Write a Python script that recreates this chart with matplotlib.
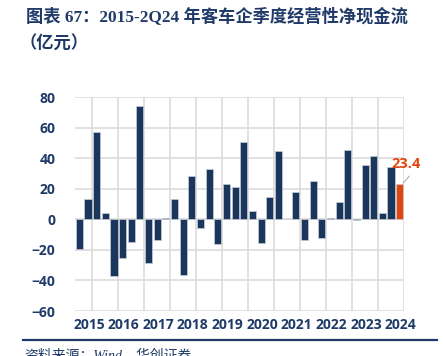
import numpy as np
import matplotlib
matplotlib.use('Agg')
import matplotlib.pyplot as plt

plt.rcParams['font.family'] = ['Open Sans', 'Noto Sans CJK SC', 'DejaVu Sans']

# 2015Q1 ~ 2024Q2 客车企业季度经营性净现金流（亿元）
values = [-19.6, 13.1, 57.4, 3.9,
          -36.9, -25.1, -15.1, 74.5,
          -28.4, -13.5, 1.1, 13.5,
          -36.2, 28.4, -5.9, 33.2,
          -16.4, 22.9, 21.2, 50.4,
          5.7, -15.3, 14.4, 45.0,
          0.2, 18.1, -13.8, 25.3,
          -12.0, 1.1, 11.1, 45.4,
          -0.4, 35.6, 41.7, 4.4,
          34.5, 23.4]
years = ['2015', '2016', '2017', '2018', '2019', '2020', '2021', '2022', '2023', '2024']

navy = '#1a365d'
orange = '#e0460f'
txt = '#1f3a68'
grid_c = '#dcdcdc'

fig = plt.figure(figsize=(4.43, 3.56), dpi=100)
ax = fig.add_axes([0.1693, 0.1264, 0.7427, 0.6003])

n = len(values)
x = np.arange(n)
colors = [navy] * (n - 1) + [orange]
ax.bar(x, values, width=0.82, color=colors, edgecolor='#c8cdd6', linewidth=0.5, zorder=3)

ax.set_xlim(-0.5, n - 0.5)
ax.set_ylim(-60, 80)
ax.set_yticks(range(-60, 81, 20))
ax.yaxis.grid(True, color=grid_c, linewidth=1.2, zorder=0)
# vertical gridlines (every 3 categories from the right edge)
for b in range(n, 1, -3):
    ax.axvline(b - 0.5, color=grid_c, linewidth=1.2, zorder=0)

ax.set_xticks([4 * i + 1.1 for i in range(len(years))])
ax.set_xticklabels(years)
ax.tick_params(length=0, labelsize=10, labelcolor=txt)
ax.tick_params(axis='y', pad=14)
ax.tick_params(axis='x', pad=5)
for lab in ax.get_xticklabels() + ax.get_yticklabels():
    lab.set_fontweight('bold')
for s in ax.spines.values():
    s.set_visible(False)

# 最后一个值的标注
last = n - 1
ax.annotate('', xy=(last + 0.4, values[last] + 0.3),
            xytext=(last + 1.1, values[last] + 5.0),
            arrowprops=dict(arrowstyle='-', color='#b0b0b0', lw=0.8,
                            shrinkA=0, shrinkB=0),
            annotation_clip=False, zorder=5)
ax.text(last + 0.75, values[last] + 8.5, f'{values[last]:.1f}', ha='center', va='bottom',
        color=orange, fontsize=10.5, fontweight='bold', clip_on=False, zorder=5)

title_fam = ['Liberation Serif', 'Noto Sans CJK SC']
fig.text(26 / 443, 1 - 17 / 356, '图表 67：2015-2Q24 年客车企季度经营性净现金流',
         family=title_fam, fontsize=12.4, fontweight='bold', color=txt, va='center')
fig.text(20 / 443, 1 - 44 / 356, '（亿元）',
         family=title_fam, fontsize=12.4, fontweight='bold', color=txt, va='center')

fig.add_artist(plt.Line2D([23 / 443, 437 / 443], [1 - 339.5 / 356] * 2,
                          color=txt, linewidth=1.6))
fig.text(24 / 443, 1 - 355 / 356, '资料来源：Wind，华创证券', family=title_fam,
         fontsize=10, style='italic', color=txt, va='center')

fig.savefig('out.png', dpi=100)
